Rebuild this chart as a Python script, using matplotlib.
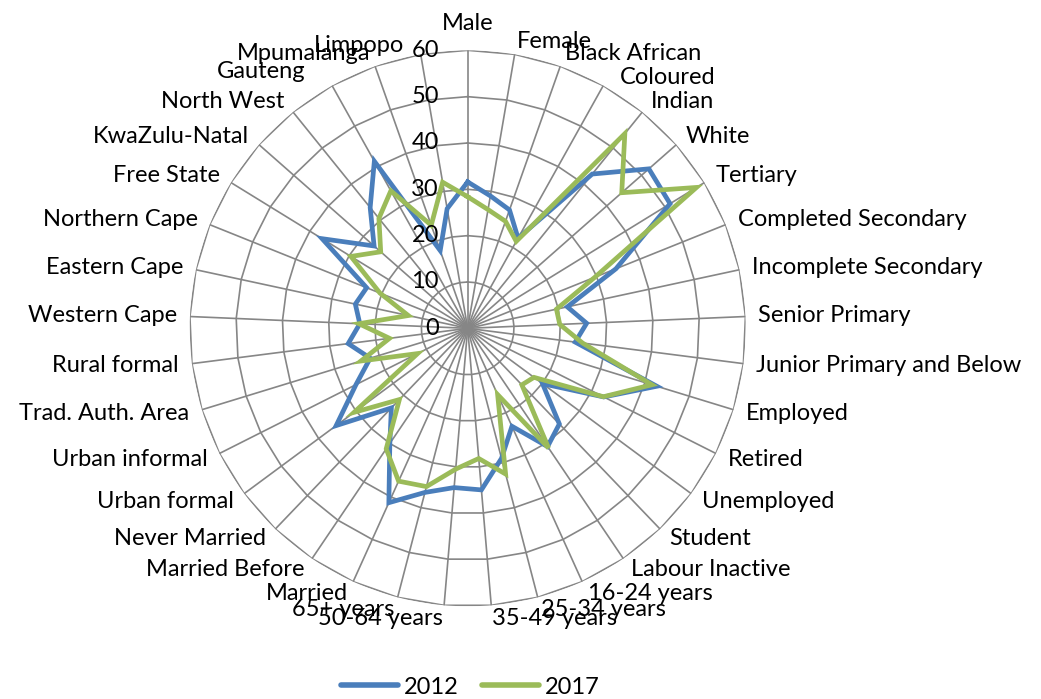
import numpy as np
import matplotlib
matplotlib.use("Agg")
import matplotlib.pyplot as plt
from matplotlib.transforms import offset_copy
from matplotlib.lines import Line2D

categories = ["Male", "Female", "Black African", "Coloured", "Indian", "White",
              "Tertiary", "Completed Secondary", "Incomplete Secondary",
              "Senior Primary", "Junior Primary and Below", "Employed", "Retired",
              "Unemployed", "Student", "Labour Inactive", "16-24 years",
              "25-34 years", "35-49 years", "50-64 years", "65+ years", "Married",
              "Married Before", "Never Married", "Urban formal", "Urban informal",
              "Trad. Auth. Area", "Rural formal", "Western Cape", "Eastern Cape",
              "Northern Cape", "Free State", "KwaZulu-Natal", "North West",
              "Gauteng", "Mpumalanga", "Limpopo"]

values_2012 = [31.6, 29.0, 27.1, 22.3, 42.8, 52.1, 51.3, 34.5, 22.0, 25.7, 23.4,
               42.7, 32.9, 20.1, 28.6, 30.8, 23.2, 29.0, 35.0, 34.5, 36.6, 41.3,
               30.0, 23.8, 35.3, 27.0, 22.0, 26.0, 23.3, 24.8, 23.5, 36.9, 26.9,
               33.5, 41.3, 17.8, 26.2]
values_2017 = [28.4, 26.0, 24.5, 21.5, 54.0, 44.3, 58.0, 29.6, 19.6, 19.9, 25.0,
               41.6, 32.8, 17.8, 16.9, 31.2, 15.7, 32.5, 28.2, 30.5, 35.3, 36.2,
               31.4, 21.3, 30.5, 12.1, 24.1, 17.0, 23.5, 13.1, 20.4, 29.6, 25.0,
               30.5, 34.0, 23.6, 32.0]
series_names = ["2012", "2017"]
r_ticks = [0, 10, 20, 30, 40, 50, 60]

COL_2012 = "#4A7EBB"
COL_2017 = "#9BBB59"
GRID = "#868686"
FONT = ["Lato", "DejaVu Sans"]
FS = 17

plt.rcParams["font.family"] = FONT

fig = plt.figure(figsize=(10.41, 6.99), dpi=100)
ax = fig.add_axes([0.1822, 0.1326, 0.5341, 0.7954], projection="polar")
ax.set_theta_zero_location("N")
ax.set_theta_direction(-1)
ax.axis("off")
ax.set_ylim(0, r_ticks[-1])

n = len(categories)
theta = np.arange(n) * 2 * np.pi / n
theta_c = np.append(theta, theta[0])

# polygon grid rings
for r in r_ticks[1:]:
    ax.plot(theta_c, [r] * (n + 1), color=GRID, lw=1.2, zorder=1)
# spokes
for t in theta:
    ax.plot([t, t], [0, r_ticks[-1]], color=GRID, lw=1.2, zorder=1)

# series
for vals, col, name in [(values_2012, COL_2012, series_names[0]),
                        (values_2017, COL_2017, series_names[1])]:
    ax.plot(theta_c, np.append(vals, vals[0]), color=col, lw=3.4,
            solid_joinstyle="miter", zorder=3, label=name)

# radial tick labels
tick_tr = offset_copy(ax.transData, fig=fig, x=-28.7, y=0, units="dots")
for r in r_ticks:
    ax.text(0, r, str(r), transform=tick_tr, ha="right", va="center",
            fontsize=FS, color="black", zorder=4)

# category labels
tweak = {"Gauteng": (-20, 3), "Limpopo": (-14, -4), "Coloured": (10, -3)}
gap = 13
for cat, t in zip(categories, theta):
    s, c = np.sin(t), np.cos(t)
    dx, dy = s * gap, c * gap
    if abs(s) < 1e-6:
        ha, va = "center", "bottom"
        dy = 16
    elif s > 0:
        ha, va = "left", "center"
    else:
        ha, va = "right", "center"
    ex, ey = tweak.get(cat, (0, 0))
    tr = offset_copy(ax.transData, fig=fig, x=dx + ex, y=dy + ey, units="dots")
    ax.text(t, r_ticks[-1], cat, transform=tr, ha=ha, va=va, fontsize=FS,
            color="black", zorder=4)

handles = [Line2D([0], [0], color=COL_2012, lw=4, solid_capstyle="round"),
           Line2D([0], [0], color=COL_2017, lw=4, solid_capstyle="round")]
fig.legend(handles, series_names, loc="center", bbox_to_anchor=(0.452, 0.017),
           ncol=2, frameon=False, fontsize=FS, handlelength=2.4,
           handletextpad=0.25, columnspacing=1.0)

fig.savefig("out.png", dpi=100)
